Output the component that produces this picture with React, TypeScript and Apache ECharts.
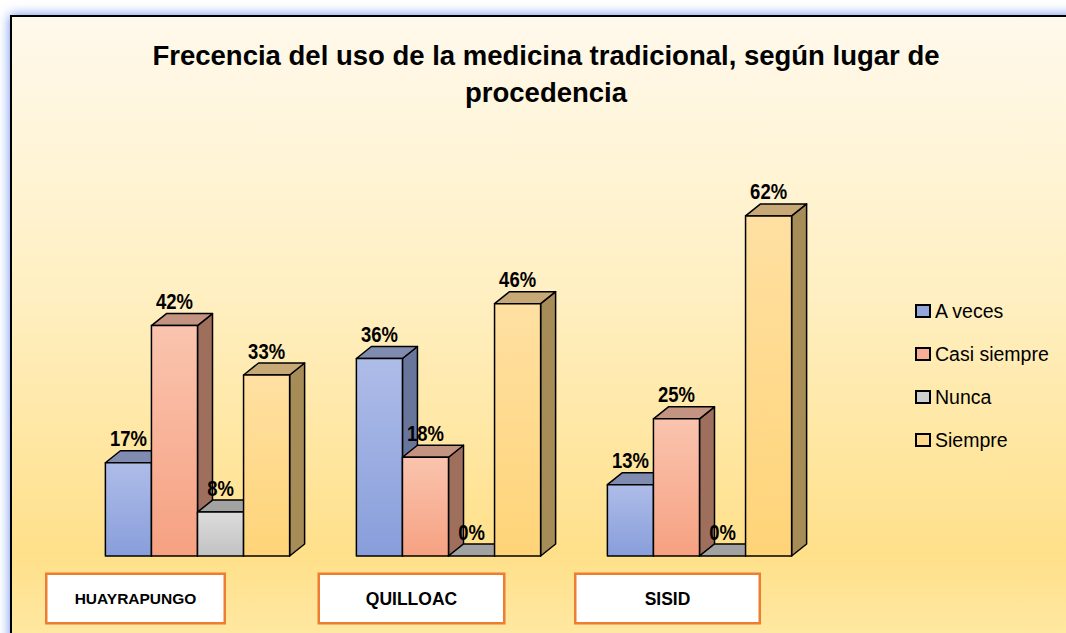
import React, { useEffect, useRef } from "react";
import * as echarts from "echarts";

const categories = ["HUAYRAPUNGO", "QUILLOAC", "SISID"];
const seriesNames = ["A veces", "Casi siempre", "Nunca", "Siempre"];
const aVeces = [17, 36, 13];
const casiSiempre = [42, 18, 25];
const nunca = [8, 0, 0];
const siempre = [33, 46, 62];
const seriesValues = [aVeces, casiSiempre, nunca, siempre];
const titleText = "Frecencia del uso de la medicina tradicional, según lugar de\nprocedencia";

const FONT = "'Liberation Sans', Arial, sans-serif";

const palette = [
  { front: ["#AEBCE8", "#889EDB"], top: "#7F8CB0", side: "#67769A", legend: "#94A7DD" },
  { front: ["#FAC4AE", "#F6A182"], top: "#C39482", side: "#9F6F5E", legend: "#F6AF96" },
  { front: ["#DCDCDC", "#C2C2C2"], top: "#A2A2A2", side: "#8A8A8A", legend: "#CFCFCF" },
  { front: ["#FFE0A2", "#FFD478"], top: "#C7A978", side: "#A68C57", legend: "#FFD98C" },
];

// label box styling per category: width, font size, horizontal shift of the box (px)
const boxWidths = [176, 183, 182];
const boxFonts = [15.5, 17.5, 17.5];
const boxShift = [62, 37, 32];

export default function App() {
  const ref = useRef<HTMLDivElement>(null);
  useEffect(() => {
    if (!ref.current) return;
    const chart = echarts.init(ref.current, undefined, { renderer: "svg" });

    const renderItem = (params: any, api: any) => {
      const si = params.seriesIndex;
      const cat = api.value(0);
      const val = api.value(1);
      const base = api.coord([cat, 0]);
      const topP = api.coord([cat, val]);
      const band = api.size([1, 0])[0];
      const w = band * 0.1835;
      const x0 = base[0] - 2 * w + si * w;
      const yb = base[1];
      const yt = topP[1];
      const dx = 15;
      const dy = 12;
      const c = palette[si];
      const stroke = { stroke: "#000", lineWidth: 1.5, lineJoin: "round" };
      const children: any[] = [
        {
          type: "polygon",
          shape: { points: [[x0 + w, yt], [x0 + w + dx, yt - dy], [x0 + w + dx, yb - dy], [x0 + w, yb]] },
          style: { fill: c.side, ...stroke },
        },
        {
          type: "polygon",
          shape: { points: [[x0, yt], [x0 + w, yt], [x0 + w + dx, yt - dy], [x0 + dx, yt - dy]] },
          style: { fill: c.top, ...stroke },
        },
      ];
      if (yb - yt > 0.5) {
        children.push({
          type: "rect",
          shape: { x: x0, y: yt, width: w, height: yb - yt },
          style: {
            fill: new echarts.graphic.LinearGradient(0, 0, 0, 1, [
              { offset: 0, color: c.front[0] },
              { offset: 1, color: c.front[1] },
            ]),
            ...stroke,
          },
        });
      }
      children.push({
        type: "text",
        x: x0 + w / 2,
        y: yt - dy - 1,
        scaleX: 0.84,
        style: {
          text: val + "%",
          fill: "#000",
          fontSize: 22,
          fontWeight: "bold",
          fontFamily: FONT,
          align: "center",
          verticalAlign: "bottom",
        },
      });
      return { type: "group", children };
    };

    const rich: any = {};
    categories.forEach((_, i) => {
      rich["b" + i] = {
        width: boxWidths[i],
        height: 47,
        align: "center",
        backgroundColor: "#FFFFFF",
        borderColor: "#ED7D31",
        borderWidth: 2.5,
        fontSize: boxFonts[i],
        fontWeight: "bold",
        fontFamily: FONT,
        color: "#000",
      };
      rich["s" + i] = { width: boxShift[i] * 2, height: 47 };
    });

    chart.setOption({
      animation: false,
      graphic: [
        {
          type: "rect",
          z: -10,
          shape: { x: 11, y: 16, width: 1100, height: 640 },
          style: {
            fill: new echarts.graphic.LinearGradient(0, 0, 0, 1, [
              { offset: 0, color: "#FFF9EC" },
              { offset: 0.45, color: "#FFEFC0" },
              { offset: 0.84, color: "#FFE08A" },
              { offset: 1, color: "#FFEAA8" },
            ]),
            stroke: "#000",
            lineWidth: 2,
            shadowBlur: 12,
            shadowColor: "rgba(70,120,235,0.85)",
          },
        },
      ],
      title: {
        text: titleText,
        left: 541,
        top: 32,
        textAlign: "center",
        textStyle: {
          fontSize: 27.5,
          fontWeight: "bold",
          fontFamily: FONT,
          color: "#000",
          lineHeight: 37,
        },
      },
      legend: {
        orient: "vertical",
        left: 910,
        top: 296,
        itemGap: 23,
        itemWidth: 14,
        itemHeight: 12,
        icon: "rect",
        data: seriesNames,
        textStyle: { fontSize: 19.5, fontFamily: FONT, color: "#000" },
      },
      grid: { left: 72, right: 241, top: 172, bottom: 77 },
      xAxis: {
        type: "category",
        data: categories,
        axisLine: { show: false },
        axisTick: { show: false },
        axisLabel: {
          margin: 19,
          formatter: (v: string, i: number) => `{b${i}|${v}}{s${i}|}`,
          rich,
        },
      },
      yAxis: { type: "value", min: 0, max: 70, show: false, splitLine: { show: false } },
      series: seriesNames.map((name, si) => ({
        name,
        type: "custom",
        renderItem,
        itemStyle: { color: palette[si].legend, borderColor: "#000", borderWidth: 1.5 },
        encode: { x: 0, y: 1 },
        data: categories.map((_, ci) => [ci, seriesValues[si][ci]]),
      })),
    });
    return () => chart.dispose();
  }, []);
  return (
    <div
      ref={ref}
      style={{ position: "fixed", left: 0, top: 0, width: 1066, height: 633, background: "#fff" }}
    />
  );
}
